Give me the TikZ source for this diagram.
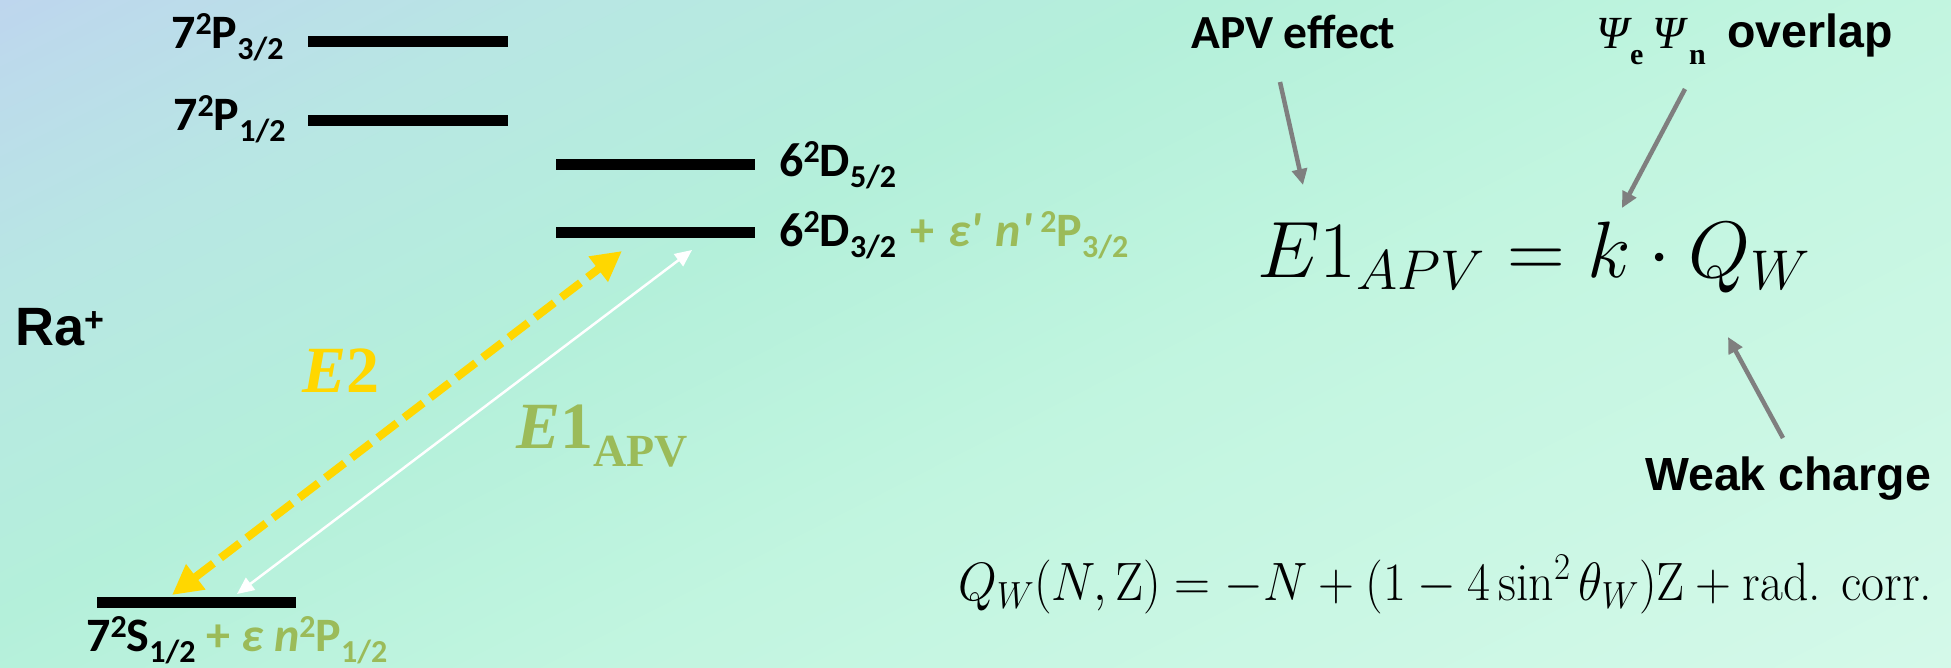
\RequirePackage{fix-cm}
\documentclass[tikz,border=0pt]{standalone}
\usepackage{amsmath}
\usepackage{graphicx}
\usepackage{fontspec}
\newfontfamily\calfont{Carlito}
\newfontfamily\arfont{Liberation Sans}
\newfontfamily\tnfont{Liberation Serif}
\usetikzlibrary{arrows.meta}
\definecolor{bgA}{RGB}{190,214,238}
\definecolor{bgB}{RGB}{184,230,228}
\definecolor{bgC}{RGB}{180,240,218}
\definecolor{bgD}{RGB}{194,245,224}
\definecolor{bgE}{RGB}{212,249,233}
\definecolor{apvgreen}{RGB}{155,187,89}
\definecolor{goldy}{RGB}{255,215,0}
\definecolor{grayarr}{RGB}{127,127,127}
\newcommand\supx[1]{\raisebox{14pt}{\fontsize{32}{32}\selectfont #1}}
\newcommand\subx[1]{\raisebox{-11pt}{\fontsize{32}{32}\selectfont #1}}
\begin{document}
\begin{tikzpicture}[x=1pt,y=-1pt,
  lvlbar/.style={line width=11pt,black},
  lbl/.style={anchor=base west,inner sep=0pt,font=\calfont\bfseries\fontsize{48}{58}\selectfont},
  note/.style={anchor=base west,inner sep=0pt,font=\calfont\bfseries\fontsize{47.5}{54}\selectfont},
  arlbl/.style={anchor=base west,inner sep=0pt,font=\arfont\bfseries\fontsize{46.5}{52}\selectfont},
  psi/.style={anchor=base west,inner sep=0pt,font=\tnfont\itshape\fontsize{46}{50}\selectfont},
  psisub/.style={anchor=base west,inner sep=0pt,font=\tnfont\bfseries\fontsize{30}{32}\selectfont},
  eqn/.style={anchor=base west,inner sep=0pt},
  pointer/.style={line width=4.5pt,grayarr,-{Triangle[length=16pt,width=15pt]}},
  e2arrow/.style={line width=8pt,goldy,dash pattern=on 24pt off 9pt,{Triangle[length=30pt,width=30pt]}-{Triangle[length=30pt,width=30pt]}},
  e1arrow/.style={line width=2.5pt,white,{Triangle[length=17pt,width=15pt]}-{Triangle[length=17pt,width=15pt]}}]
\useasboundingbox (0,0) rectangle (1951,667);
% background gradient (diagonal stripes)
\begin{scope}
\clip (0,0) rectangle (1951,667);
\begin{scope}[rotate=-63]
\foreach \i in {0,...,149}{
  \pgfmathsetmacro\tc{\i*10+5}
  \pgfmathtruncatemacro\seg{\tc<250 ? 0 : (\tc<550 ? 1 : (\tc<880 ? 2 : 3))}
  \ifcase\seg
    \pgfmathsetmacro\q{\tc/250*100}\colorlet{stripe}{bgB!\q!bgA}
  \or
    \pgfmathsetmacro\q{(\tc-250)/300*100}\colorlet{stripe}{bgC!\q!bgB}
  \or
    \pgfmathsetmacro\q{(\tc-550)/330*100}\colorlet{stripe}{bgD!\q!bgC}
  \else
    \pgfmathsetmacro\q{min(100,(\tc-880)/600*100)}\colorlet{stripe}{bgE!\q!bgD}
  \fi
  \fill[stripe] (\i*10,-2500) rectangle (\i*10+11,2500);
}
\end{scope}
\end{scope}

% energy levels
\coordinate (p3a) at (308,41);  \coordinate (p3b) at (508,41);
\coordinate (p1a) at (308,120); \coordinate (p1b) at (508,120);
\coordinate (d5a) at (556,164); \coordinate (d5b) at (755,164);
\coordinate (d3a) at (556,232); \coordinate (d3b) at (755,232);
\coordinate (s1a) at (97,602);  \coordinate (s1b) at (296,602);
\draw[lvlbar] (p3a) -- (p3b);
\draw[lvlbar] (p1a) -- (p1b);
\draw[lvlbar] (d5a) -- (d5b);
\draw[lvlbar] (d3a) -- (d3b);
\draw[lvlbar] (s1a) -- (s1b);

% level labels
\node[lbl] (lp3) at (171,48) {7\supx{2}P\subx{3/2}};
\node[lbl] (lp1) at (173,130) {7\supx{2}P\subx{1/2}};
\node[lbl] (ld5) at (779,176) {6\supx{2}D\subx{5/2}};
\node[lbl] (ld3) at (779,246) {6\supx{2}D\subx{3/2}\hspace{3pt} {\color{apvgreen}+\hspace{4pt} \itshape ε'\hspace{3pt} n'\,\upshape\supx{2}P\subx{3/2}}};
\node[lbl] (ls1) at (86,651) {7\supx{2}S\subx{1/2} {\color{apvgreen}+ \itshape ε n\upshape\supx{2}P\subx{1/2}}};
\node[anchor=base west,inner sep=0pt,font=\arfont\bfseries\fontsize{54}{60}\selectfont] (ra) at (15,345) {Ra\raisebox{14pt}{\fontsize{34}{34}\selectfont +}};

% transitions
\coordinate (e2bot) at (172,595); \coordinate (e2top) at (622,251);
\coordinate (e1bot) at (237,594); \coordinate (e1top) at (692,250);
\draw[e2arrow] (e2bot) -- (e2top);
\draw[e1arrow] (e1bot) -- (e1top);
\node[anchor=base west,inner sep=0pt,text=goldy,font=\tnfont\bfseries\fontsize{66}{70}\selectfont] (le2) at (302,392) {\itshape E\upshape 2};
\node[anchor=base west,inner sep=0pt,text=apvgreen,font=\tnfont\bfseries\fontsize{66}{70}\selectfont] (le1) at (516,448) {\itshape E\upshape 1\raisebox{-18pt}{\fontsize{46}{48}\selectfont APV}};

% equations
\node[eqn] (eq1) at (1257,277) {\fontsize{80}{96}\selectfont $E1_{APV} = k\cdot Q_W$};
\node[eqn] (eq2) at (958,600) {\fontsize{54}{64}\selectfont\resizebox{974pt}{\height}{$Q_W(N,\mathrm{Z}) = -N + (1-4\sin^2\theta_W)\mathrm{Z} + \text{rad. corr.}$}};

% annotations
\node[note] (apv) at (1191,48) {APV effect};
\node[psi] (psie) at (1596,48) {Ψ};
\node[psisub] (sube) at (1630,64) {e};
\node[psi] (psin) at (1652,48) {Ψ};
\node[psisub] (subn) at (1689,64) {n};
\node[arlbl] (ovl) at (1727,47) {overlap};
\node[arlbl] (weak) at (1645,490) {Weak charge};

\coordinate (apvs) at (1280,82);  \coordinate (apvt) at (1303,185);
\coordinate (ovls) at (1685,89);  \coordinate (ovlt) at (1622,208);
\coordinate (wks) at (1783,438);  \coordinate (wkt) at (1728,337);
\draw[pointer] (apvs) -- (apvt);
\draw[pointer] (ovls) -- (ovlt);
\draw[pointer] (wks) -- (wkt);
\end{tikzpicture}
\end{document}
